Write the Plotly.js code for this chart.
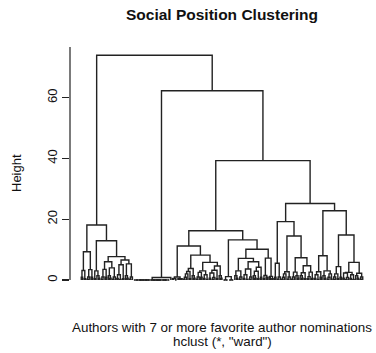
<!DOCTYPE html>
<html>
<head>
<meta charset="utf-8">
<script src="https://cdn.plot.ly/plotly-3.0.1.min.js"></script>
<style>html,body{margin:0;padding:0;background:#fff;}#chart{width:376px;height:353px;}</style>
</head>
<body>
<div id="chart"></div>
<script>
// ---- Dendrogram data: merge trees written as "(left,right)height", "o" = one author (leaf) ----
// small bushes at the bottom of the tree
const b2x = "(o,o)0.4";
const b2y = "(o,o)0.9";
const b3x = "((o,o)0.3,o)1.0";
const b3y = "(o,(o,o)0.6)1.4";
const b4x = "((o,o)0.5,(o,o)0.2)1.7";
const b4y = "(((o,o)0.3,o)0.9,o)2.0";
const b5x = "((o,o)0.6,((o,o)0.2,o)0.8)2.3";
const b5y = "(((o,o)0.4,o)1.1,(o,o)0.5)2.6";
// identical authors (merged at height 0)
const z2 = "(o,o)0";
const z4 = "($z2,$z2)0";
const z8 = "($z4,$z4)0";
// left cluster
const A1a = "($b2y,$b2x)3.1";
const A1b = "($b3x,$b2y)3.4";
const A1 = "($A1a,$A1b)9.3";
const B1 = "($b2x,$b3y)3.0";
const B2a = "(($b3x,$b2y)3.5,($b3y,$b3x)4.0)6.0";
const B2b = "(($b4x,$b2x)5.0,($b3y,$b3x)5.3)6.6";
const B2 = "($B2a,$B2b)7.7";
const B = "($B1,$B2)12.9";
const L = "($A1,$B)18.1";
// middle (near-zero) cluster
const Z = "(($z8,$z4)0,($z8,($z4,$z2)0)0)0";
const C = "($Z,o)0.8";
// right-hand clusters
const D1a = "(($b2x,(o,o)0)0.5,($b2x,$b2x)0.3)1.0";
const D1b1 = "(($b4y,$b2x)2.8,$b3y)3.8";
const D1b2a = "(($b3x,$b2y)2.5,$b4x)3.0";
const D1b2b = "(($b5x,$b2x)3.2,$b3y)4.6";
const D1b2 = "($D1b2a,$D1b2b)5.8";
const D1b = "($D1b1,$D1b2)8.2";
const D1 = "($D1a,$D1b)11.2";
const D2a = "($z4,$z4)1.1";
const D2b1a = "($b3y,$b3x)3.0";
const D2b1b = "(($b4x,$b3x)3.6,(($b3y,$b2x)2.9,$b2y)4.2)6.0";
const D2b1 = "($D2b1a,$D2b1b)7.1";
const D2b2 = "(($b2x,$b2y)1.5,($b2y,$b2x)1.2)7.2";
const D2b = "($D2b1,$D2b2)10.1";
const D2 = "($D2a,$D2b)13.2";
const D = "($D1,$D2)16.2";
const E1a = "($b2y,$b3x)5.5";
const E1b1 = "($b4y,$b3x)2.7";
const E1b2a = "($b3x,$b3y)2.6";
const E1b2b = "(($b3y,$b2x)2.4,$b5y)4.7";
const E1b2 = "($E1b2a,$E1b2b)7.3";
const E1b = "($E1b1,$E1b2)14.5";
const E1 = "($E1a,$E1b)19.2";
const E2a1 = "($b4x,$b2y)2.7";
const E2a2 = "($b3y,$b4y)3.0";
const E2a = "($E2a1,$E2a2)8.0";
const E2b1 = "(($b3x,$b2x)2.0,$b2y)4.4";
const E2b2a = "($b5x,$b4x)2.5";
const E2b2b = "($b3y,$b3x)2.2";
const E2b2 = "($E2b2a,$E2b2b)5.8";
const E2b = "($E2b1,$E2b2)14.8";
const E2 = "($E2a,$E2b)22.8";
const E = "($E1,$E2)25.2";
const R39 = "($D,$E)39.3";
const R62 = "($C,$R39)62.3";
const ROOT = "($L,$R62)74.0";

const yTickVals = [0, 20, 40, 60];
const yTickText = ["0", "20", "40", "60"];
const titleText = "Social Position Clustering";
const xLabelText = "Authors with 7 or more favorite author nominations";
const subText = 'hclust (*, "ward")';
const yLabelText = "Height";

// ---- build ----
const defs = {b2x,b2y,b3x,b3y,b4x,b4y,b5x,b5y,z2,z4,z8,A1a,A1b,A1,B1,B2a,B2b,B2,B,L,Z,C,
  D1a,D1b1,D1b2a,D1b2b,D1b2,D1b,D1,D2a,D2b1a,D2b1b,D2b1,D2b2,D2b,D2,D,
  E1a,E1b1,E1b2a,E1b2b,E1b2,E1b,E1,E2a1,E2a2,E2a,E2b1,E2b2a,E2b2b,E2b2,E2b,E2,E,R39,R62,ROOT};
function expand(s){
  let prev;
  do { prev = s; s = s.replace(/\$(\w+)/g, (m, n) => defs[n]); } while (s !== prev);
  return s;
}
const src = expand(ROOT);
let pos = 0;
function parse(){
  if (src[pos] === 'o') { pos++; return {leaf:true}; }
  pos++; // (
  const l = parse();
  pos++; // ,
  const r = parse();
  pos++; // )
  let m = /^[0-9.]+/.exec(src.slice(pos));
  pos += m[0].length;
  return {l, r, h: parseFloat(m[0])};
}
const tree = parse();
let leafCount = 0;
function layout(n){
  if (n.leaf) { leafCount++; n.x = leafCount; n.y = 0; return; }
  layout(n.l); layout(n.r);
  n.x = (n.l.x + n.r.x) / 2; n.y = n.h;
}
layout(tree);
const xs = [], ys = [];
function segs(n){
  if (n.leaf) return;
  xs.push(n.l.x, n.l.x, n.r.x, n.r.x, null);
  ys.push(n.l.y, n.h, n.h, n.r.y, null);
  segs(n.l); segs(n.r);
}
segs(tree);
const N = leafCount;
const padX = 0.04 * (N - 1);

const font = "Liberation Sans, Arial, Helvetica, sans-serif";
const trace = {x: xs, y: ys, type: 'scatter', mode: 'lines',
  line: {color: '#222', width: 1.4}, hoverinfo: 'skip', connectgaps: false};

const layoutObj = {
  width: 376, height: 353,
  margin: {l: 70, r: 2, t: 47, b: 68, pad: 0},
  paper_bgcolor: '#fff', plot_bgcolor: '#fff',
  showlegend: false,
  font: {family: font, size: 13, color: '#111'},
  title: {text: '<b>' + titleText + '</b>', font: {family: font, size: 15.5, color: '#111'},
    x: 0.5, xref: 'paper', xanchor: 'center', y: 1 - 15/353, yref: 'container', yanchor: 'middle'},
  xaxis: {range: [1 - padX, N + padX], visible: false, fixedrange: true},
  yaxis: {range: [-1.65, 76.7], showgrid: false, zeroline: false, showline: false,
    tickmode: 'array', tickvals: yTickVals, ticktext: yTickText, ticks: 'outside', ticklen: 7,
    tickwidth: 1.2, tickcolor: '#222', tickangle: -90, tickfont: {size: 13, color: '#111'}, fixedrange: true},
  shapes: [{type: 'line', xref: 'paper', x0: 0, x1: 0, yref: 'y', y0: 0, y1: 76.7,
    line: {color: '#222', width: 1.2}}],
  annotations: [
    {text: xLabelText, xref: 'paper', yref: 'paper', x: 0.5, y: (285 - 327.5)/238, xanchor: 'center', yanchor: 'middle', showarrow: false, font: {size: 13.4}},
    {text: subText, xref: 'paper', yref: 'paper', x: 0.5, y: (285 - 341.3)/238, xanchor: 'center', yanchor: 'middle', showarrow: false, font: {size: 13.4}},
    {text: yLabelText, xref: 'paper', yref: 'paper', x: (16 - 70)/304, y: (285 - 173)/238, xanchor: 'center', yanchor: 'middle', textangle: -90, showarrow: false, font: {size: 13}}
  ]
};
Plotly.newPlot('chart', [trace], layoutObj, {displayModeBar: false, staticPlot: true});
</script>
</body>
</html>
